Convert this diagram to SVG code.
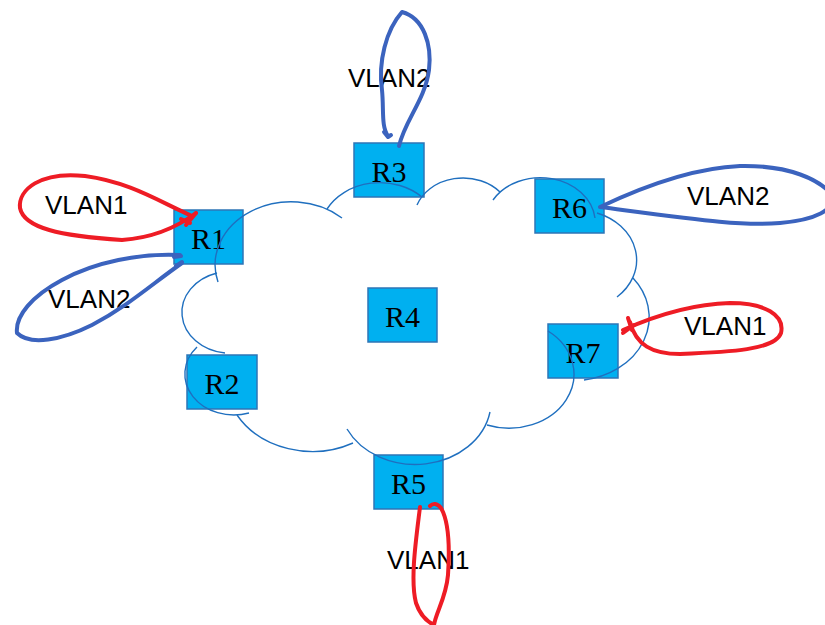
<svg xmlns="http://www.w3.org/2000/svg" width="825" height="625" viewBox="0 0 825 625">
<style>
.box{fill:#00B0F0;stroke:#2E75B6;stroke-width:1.5}
.rt{font-family:"Liberation Serif",serif;font-size:30px;fill:#000;text-anchor:middle}
.vl{font-family:"Liberation Sans",Arial,sans-serif;font-size:26px;fill:#000}
.cloud{fill:none;stroke:#1F6FBF;stroke-width:1.4}
.red{fill:none;stroke:#EE1C25;stroke-width:4;stroke-linecap:round;stroke-linejoin:round}
.blue{fill:none;stroke:#3B63BE;stroke-width:4;stroke-linecap:round;stroke-linejoin:round}
</style>
<rect width="825" height="625" fill="#fff"/>
<g id="R1"><rect class="box" x="174" y="210" width="69" height="54"/><text class="rt" x="208.5" y="249">R1</text></g>
<g id="R2"><rect class="box" x="187" y="355" width="70" height="54"/><text class="rt" x="222" y="394">R2</text></g>
<g id="R3"><rect class="box" x="354" y="143" width="70" height="54"/><text class="rt" x="389" y="182">R3</text></g>
<g id="R4"><rect class="box" x="368" y="288" width="69" height="54"/><text class="rt" x="402.5" y="327">R4</text></g>
<g id="R5"><rect class="box" x="374" y="455" width="69" height="54"/><text class="rt" x="408.5" y="494">R5</text></g>
<g id="R6"><rect class="box" x="535" y="179" width="69" height="54"/><text class="rt" x="569.5" y="218">R6</text></g>
<g id="R7"><rect class="box" x="548" y="324" width="70" height="54"/><text class="rt" x="583" y="363">R7</text></g>
<g id="cloud" class="cloud">
<path d="M218,282 A76,63 0 0 1 342,218"/>
<path d="M327,209 A60,50 0 0 1 422,197"/>
<path d="M417,205 A49,41 0 0 1 500,192"/>
<path d="M493,200 A55,45.5 0 0 1 595,218"/>
<path d="M597,213 A60,50 0 0 1 617,297"/>
<path d="M633,278 A76.5,63.6 0 0 1 584,380"/>
<path d="M548,331 A65,54 0 0 1 487,425"/>
<path d="M490,412 A76,63.6 0 0 1 347,429"/>
<path d="M353,443 A87,73 0 0 1 237,415"/>
<path d="M249,413 A49,41 0 0 1 197,347"/>
<path d="M225,353 A49,41 0 0 1 217,273"/>
</g>
<g id="labels">
<text class="vl" x="45" y="214">VLAN1</text>
<text class="vl" x="48" y="308">VLAN2</text>
<text class="vl" x="348" y="87">VLAN2</text>
<text class="vl" x="387" y="569">VLAN1</text>
<text class="vl" x="687" y="205">VLAN2</text>
<text class="vl" x="684" y="335">VLAN1</text>
</g>
<g id="connectors">
<path class="red" d="M192,216 C160,202 130,182 85,176 C40,171 18,190 20,208 C24,228 60,236 122,240 C150,238 176,228 196,213"/>
<path class="red" d="M181,219 L190,223 M186,225 L196,213"/>
<path class="blue" d="M180,255 C140,253 95,262 62,280 C32,296 15,316 17,333 C30,346 62,340 92,325 C128,306 152,284 182,263"/>
<path class="blue" d="M174,257 L181,256 M176,266 L182,262"/>
<path class="blue" d="M388,136 C381,126 384,110 382,90 C378,62 386,30 402,12 C424,18 432,45 429,70 C425,100 405,120 399,146"/>
<path class="blue" d="M384,132 L388,137 L391,135"/>
<path class="red" d="M420,507 C416,540 410,580 416,603 C420,615 428,622 434,625 C436,612 446,598 448,575 C450,545 448,520 441,508 C437,503 433,503 430,506"/>
<path class="blue" d="M600,207 C640,188 690,168 740,166 C790,165 820,180 832,195 C836,210 815,220 780,223 C740,226 700,220 600,207"/>
<path class="red" d="M623,330 C650,318 690,304 730,303 C765,303 785,315 781,333 C775,350 730,352 680,354 C652,354 636,345 630,322"/>
<path class="red" d="M623,333 L634,325 M628,318 L632,330"/>
</g>
</svg>
